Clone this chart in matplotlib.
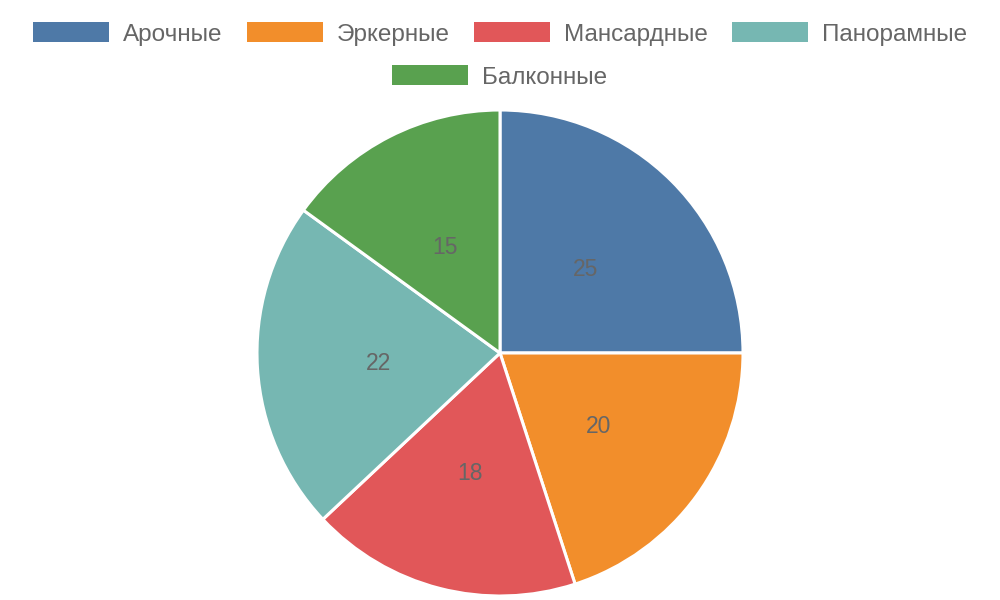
import matplotlib
matplotlib.use("Agg")
import matplotlib.pyplot as plt
from matplotlib.patches import Rectangle

categories = ["Арочные", "Эркерные", "Мансардные", "Панорамные", "Балконные"]
values = [25, 20, 18, 22, 15]
colors = ["#4e79a7", "#f28e2b", "#e15759", "#76b7b2", "#59a14f"]

plt.rcParams["font.family"] = ["Liberation Sans", "DejaVu Sans"]
TEXT = "#666666"

fig = plt.figure(figsize=(10, 6), dpi=100)
ax = fig.add_axes([0, 0, 1, 1])

total = sum(values)
wedges, texts, autotexts = ax.pie(
    values,
    colors=colors,
    center=(500, 247),
    radius=243,
    startangle=90,
    counterclock=False,
    autopct=lambda p: f"{p * total / 100:.0f}",
    pctdistance=0.5,
    wedgeprops=dict(edgecolor="white", linewidth=2.2),
    textprops=dict(color=TEXT, fontsize=16.5),
    frame=True,
)
for t in autotexts:
    t.set_va("center_baseline")
ax.set_xlim(0, 1000)
ax.set_ylim(0, 600)
ax.axis("off")

# legend drawn by hand so rows are centred like the original
fig.canvas.draw()
renderer = fig.canvas.get_renderer()
box_w, box_h, gap_txt, gap_item = 76, 20, 14, 24
rows = [list(range(4)), [4]]
row_y = [568, 525]
fs = 17.5

def text_width(s):
    t = ax.text(0, 0, s, fontsize=fs)
    w = t.get_window_extent(renderer).width
    t.remove()
    return w

for row, y in zip(rows, row_y):
    widths = [box_w + gap_txt + text_width(categories[i]) for i in row]
    total_w = sum(widths) + gap_item * (len(row) - 1)
    x = 500 - total_w / 2
    for i, w in zip(row, widths):
        ax.add_patch(Rectangle((x, y - box_h / 2), box_w, box_h,
                               facecolor=colors[i], edgecolor="none", clip_on=False))
        ax.text(x + box_w + gap_txt, y, categories[i], fontsize=fs, color=TEXT,
                va="center_baseline", ha="left")
        x += w + gap_item

fig.savefig("out.png", dpi=100)
